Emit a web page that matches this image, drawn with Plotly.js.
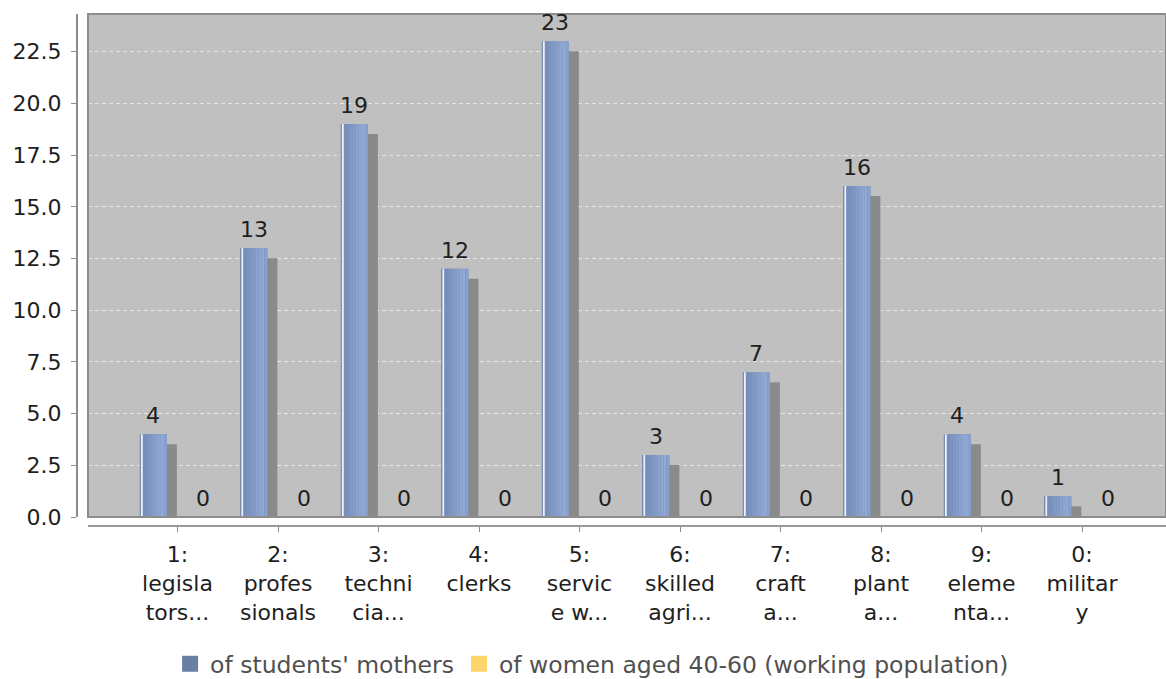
<!DOCTYPE html>
<html>
<head>
<meta charset="utf-8">
<script src="https://cdn.plot.ly/plotly-3.0.1.min.js"></script>
<style>
  html, body { margin: 0; padding: 0; background: #ffffff; }
  #chart { width: 1166px; height: 679px; }
</style>
</head>
<body>
<div id="chart"></div>
<script>
// Occupation groups (ISCO major groups), shortened and wrapped
const categories = [
  "1:<br>legisla<br>tors...",
  "2:<br>profes<br>sionals",
  "3:<br>techni<br>cia...",
  "4:<br>clerks",
  "5:<br>servic<br>e w...",
  "6:<br>skilled<br>agri...",
  "7:<br>craft<br>a...",
  "8:<br>plant<br>a...",
  "9:<br>eleme<br>nta...",
  "0:<br>militar<br>y"
];
const seriesNames = ["of students' mothers", "of women aged 40-60 (working population)"];
const mothers = [4, 13, 19, 12, 23, 3, 7, 16, 4, 1];
const women = [0, 0, 0, 0, 0, 0, 0, 0, 0, 0];
const yTicks = [0, 2.5, 5, 7.5, 10, 12.5, 15, 17.5, 20, 22.5];

// ---- geometry of the plot ----
const FONT = "DejaVu Sans, Liberation Sans, sans-serif";
const PX_PER_X = 100.5;           // pixels per category step
const PX_PER_Y = 20.68;           // pixels per unit of value
const X_RANGE = [-0.8905, -0.8905 + 1078 / PX_PER_X];
const Y_RANGE = [0, 503 / PX_PER_Y];
const BAR_PX = 27;
const MOTHER_SHIFT = -0.24;       // centre of first series within a category
const WOMEN_SHIFT = 0.254;        // centre of second series within a category
const SHADOW_DX = 10 / PX_PER_X;
const SHADOW_DY = 10 / PX_PER_Y;

const pos = categories.map((_, i) => i);
const barW = BAR_PX / PX_PER_X;
const barLeft = MOTHER_SHIFT - barW / 2;

// vertical stripes that imitate the gradient fill of each bar (left -> right, px)
const stripes = [
  [0, 1, "#6d84ab"],
  [1, 3, "#eef2f9"],
  [3, 6, "#7690bb"],
  [6, 9, "#7a94bf"],
  [9, 12, "#7f99c4"],
  [12, 15, "#839dc8"],
  [15, 18, "#88a2cd"],
  [18, 21, "#8ca6d1"],
  [21, 24, "#90aad5"],
  [24, 27, "#88a1cd"]
];

const traces = [];

// drop shadow behind the bars
traces.push({
  type: "bar", x: pos, y: mothers.map(v => Math.max(0, v - SHADOW_DY)), base: 0,
  width: barW, offset: barLeft + SHADOW_DX,
  marker: { color: "#8a8a8a", line: { width: 0 } },
  showlegend: false, hoverinfo: "skip"
});

// solid base of the first series
traces.push({
  type: "bar", x: pos, y: mothers, name: seriesNames[0],
  width: barW, offset: barLeft,
  marker: { color: "#6f84a8", line: { width: 0 } },
  showlegend: false
});

stripes.forEach(([a, b, c]) => {
  traces.push({
    type: "bar", x: pos, y: mothers,
    width: (b - a) / PX_PER_X, offset: barLeft + a / PX_PER_X,
    marker: { color: c, line: { width: 0 } },
    showlegend: false, hoverinfo: "skip"
  });
});

// second series (all zero)
traces.push({
  type: "bar", x: pos, y: women, name: seriesNames[1],
  width: barW, offset: WOMEN_SHIFT - barW / 2,
  marker: { color: "#fcd66b", line: { width: 0 } },
  showlegend: false
});

// legend keys
traces.push({
  type: "scatter", mode: "markers", x: [null], y: [null], name: seriesNames[0],
  marker: { symbol: "square", size: 18, color: "#6a7fa3" }, hoverinfo: "skip"
});
traces.push({
  type: "scatter", mode: "markers", x: [null], y: [null], name: seriesNames[1],
  marker: { symbol: "square", size: 18, color: "#fcd66b" }, hoverinfo: "skip"
});

// value labels above the bars
const valueLabel = (x, y, t) => ({
  x: x, y: y, xref: "x", yref: "y", text: String(t), showarrow: false,
  yanchor: "bottom", xanchor: "center", yshift: 4,
  font: { family: FONT, size: 22, color: "#1e1e1e" }
});
const annotations = [
  ...mothers.map((v, i) => valueLabel(i + MOTHER_SHIFT, v, v)),
  ...women.map((v, i) => valueLabel(i + WOMEN_SHIFT, v, v))
];

const layout = {
  width: 1166, height: 679,
  margin: { l: 77, r: 0, t: 14, b: 153, pad: 0, autoexpand: false },
  paper_bgcolor: "#ffffff",
  plot_bgcolor: "#c0c0c0",
  barmode: "overlay",
  showlegend: true,
  legend: {
    orientation: "h", x: 0.473, xanchor: "center", y: -0.2695, yanchor: "middle",
    font: { family: FONT, size: 23.5, color: "#505050" },
    itemsizing: "trace", itemwidth: 30, bgcolor: "rgba(0,0,0,0)"
  },
  xaxis: {
    domain: [11 / 1089, 1], anchor: "free", position: 0,
    range: X_RANGE, fixedrange: true,
    tickmode: "array", tickvals: pos, ticktext: categories,
    ticks: "outside", ticklen: 5, tickcolor: "#8c8c8c", tickwidth: 1,
    ticklabelstandoff: 4,
    showline: true, linecolor: "#9a9a9a", linewidth: 2,
    showgrid: false, zeroline: false,
    tickfont: { family: FONT, size: 22, color: "#1e1e1e" }
  },
  yaxis: {
    domain: [9 / 512, 1], anchor: "free", position: 0,
    range: Y_RANGE, fixedrange: true,
    tickmode: "array", tickvals: yTicks, ticktext: yTicks.map(v => v.toFixed(1)),
    ticks: "outside", ticklen: 5, tickcolor: "#8c8c8c", tickwidth: 1,
    ticklabelstandoff: 5,
    showline: true, linecolor: "#8c8c8c", linewidth: 2,
    showgrid: true, gridcolor: "#e6e6e6", gridwidth: 1, griddash: "4px,3px",
    zeroline: false,
    tickfont: { family: FONT, size: 22, color: "#1e1e1e" }
  },
  shapes: [{
    type: "rect", xref: "x domain", yref: "y domain", x0: 0, x1: 1, y0: 0, y1: 1,
    line: { color: "#8c8c8c", width: 2 }, fillcolor: "rgba(0,0,0,0)", layer: "above"
  }],
  annotations: annotations
};

Plotly.newPlot("chart", traces, layout, { displayModeBar: false, staticPlot: true });
</script>
</body>
</html>
